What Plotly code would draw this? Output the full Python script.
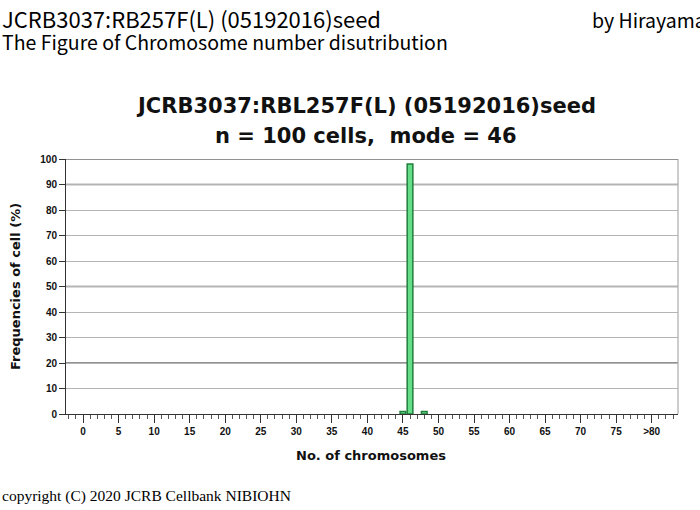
import plotly.graph_objects as go

# Data
chromosome_numbers = [45, 46, 48]
frequencies = [1, 98, 1]
x_tick_values = [0, 5, 10, 15, 20, 25, 30, 35, 40, 45, 50, 55, 60, 65, 70, 75, 80]
x_tick_labels = ["0", "5", "10", "15", "20", "25", "30", "35", "40", "45", "50",
                 "55", "60", "65", "70", "75", ">80"]
y_tick_values = [0, 10, 20, 30, 40, 50, 60, 70, 80, 90, 100]
dark_grid_values = [20, 50, 90, 100]

W, H = 700, 510
L, R, T, B = 66, 22, 159, 96
pw, ph = W - L - R, H - T - B

def px_x(p):
    return (p - L) / pw

def px_y(p):
    return (H - B - p) / ph

fig = go.Figure()
fig.add_trace(go.Bar(
    x=chromosome_numbers, y=frequencies, width=0.8,
    marker=dict(color="#66dd88", line=dict(color="#1f7f3a", width=1.5)),
    hoverinfo="skip",
))

shapes = []
for v in dark_grid_values:
    shapes.append(dict(type="line", xref="paper", x0=0, x1=1, yref="y", y0=v, y1=v,
                       line=dict(color="#6e6e6e", width=1.5), layer="below"))
# right frame
shapes.append(dict(type="line", xref="paper", x0=1, x1=1, yref="paper", y0=0, y1=1,
                   line=dict(color="#9a9a9a", width=1), layer="below"))

bold_font = "DejaVu Sans, sans-serif"
tick_font = "Liberation Sans, Arial, sans-serif"
annotations = [
    dict(text="JCRB3037:RB257F(L) (05192016)seed", x=px_x(0), y=px_y(18),
         xanchor="left", yanchor="middle",
         font=dict(family="Noto Sans CJK JP", size=22, color="#000")),
    dict(text="The Figure of Chromosome number disutribution", x=px_x(0), y=px_y(41),
         xanchor="left", yanchor="middle",
         font=dict(family="Noto Sans CJK JP", size=19.5, color="#000")),
    dict(text="by Hirayama", x=px_x(590), y=px_y(19),
         xanchor="left", yanchor="middle",
         font=dict(family="Noto Sans CJK JP", size=19.5, color="#000")),
    dict(text="JCRB3037:RBL257F(L) (05192016)seed", x=px_x(366), y=px_y(106),
         xanchor="center", yanchor="middle",
         font=dict(family=bold_font, size=21, color="#111", weight="bold")),
    dict(text="n = 100 cells,  mode = 46", x=px_x(366), y=px_y(136),
         xanchor="center", yanchor="middle",
         font=dict(family=bold_font, size=21, color="#111", weight="bold")),
    dict(text="Frequencies of cell (%)", x=px_x(15), y=px_y(287), textangle=-90,
         xanchor="center", yanchor="middle",
         font=dict(family=bold_font, size=13, color="#111", weight="bold")),
    dict(text="No. of chromosomes", x=px_x(371), y=px_y(455),
         xanchor="center", yanchor="middle",
         font=dict(family=bold_font, size=13, color="#111", weight="bold")),
    dict(text="copyright (C) 2020 JCRB Cellbank NIBIOHN", x=px_x(0), y=px_y(496),
         xanchor="left", yanchor="middle",
         font=dict(family="Liberation Serif, Times New Roman, serif", size=15.5, color="#000")),
]
for a in annotations:
    a.update(xref="paper", yref="paper", showarrow=False)

fig.update_layout(
    width=W, height=H,
    margin=dict(l=L, r=R, t=T, b=B, pad=0),
    paper_bgcolor="white", plot_bgcolor="white",
    showlegend=False,
    shapes=shapes,
    annotations=annotations,
    xaxis=dict(
        range=[-2.4, 83.7], tickmode="array", tickvals=x_tick_values, ticktext=x_tick_labels,
        ticks="outside", ticklen=8, tickwidth=1, tickcolor="#333",
        minor=dict(dtick=1, tick0=0, ticks="outside", ticklen=4, tickcolor="#555", showgrid=False),
        showgrid=False, showline=True, linecolor="#333", linewidth=1, zeroline=False,
        tickfont=dict(family=tick_font, size=10, color="#111", weight="bold"),
        fixedrange=True,
    ),
    yaxis=dict(
        range=[0, 100], tickmode="array", tickvals=y_tick_values,
        ticks="outside", ticklen=6, tickcolor="#333",
        showgrid=True, gridcolor="#b4b4b4", gridwidth=1,
        showline=True, linecolor="#333", linewidth=1, zeroline=False,
        tickfont=dict(family=tick_font, size=10, color="#111", weight="bold"),
        fixedrange=True,
    ),
)

fig.write_html("out.html", config={"displayModeBar": False},
               post_script="document.body.style.margin='0';")
